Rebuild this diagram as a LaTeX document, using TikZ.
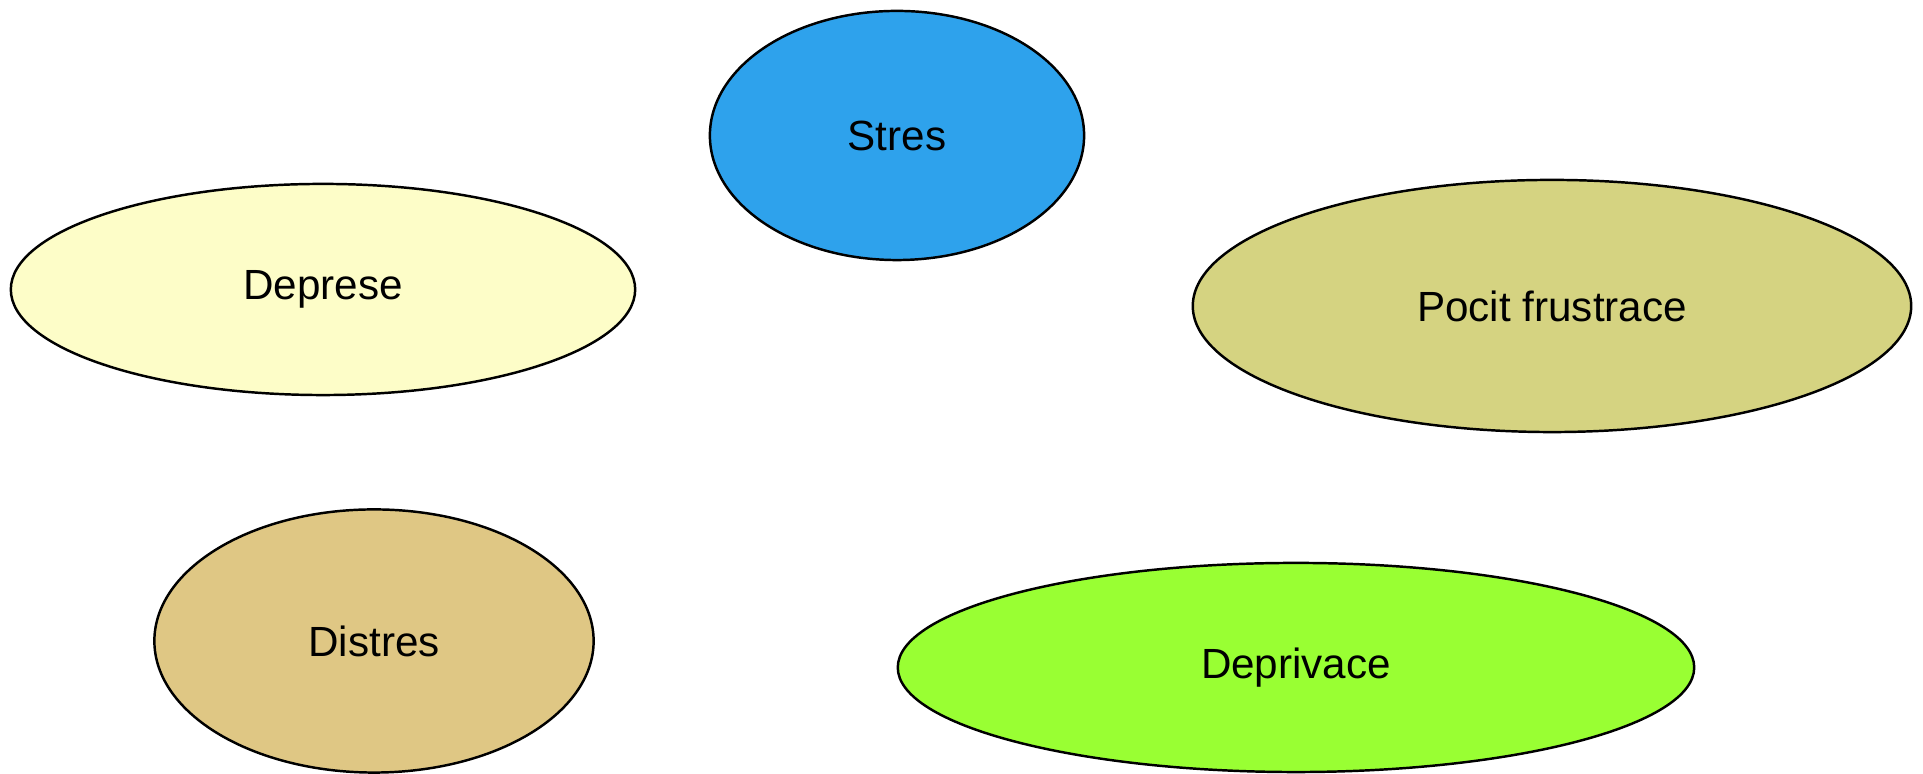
\documentclass[tikz,border=0pt]{standalone}
\usepackage{fontspec}
\setmainfont{Liberation Sans}
\usetikzlibrary{shapes.geometric}
\definecolor{cStres}{RGB}{46,162,236}
\definecolor{cDeprese}{RGB}{253,253,200}
\definecolor{cPocit}{RGB}{213,211,129}
\definecolor{cDistres}{RGB}{223,199,132}
\definecolor{cDeprivace}{RGB}{153,255,51}
\tikzset{
  blob/.style={ellipse, draw=black, line width=0.7pt, inner sep=0pt,
    font=\fontsize{12}{14}\selectfont}
}
\begin{document}
\begin{tikzpicture}[x=0.01cm,y=-0.01cm]
\useasboundingbox (0,0) rectangle (1923,774);
\node[blob, fill=cStres, minimum width=3.74cm, minimum height=2.49cm] (stres) at (897,135.5) {Stres};
\node[blob, fill=cDeprese, minimum width=6.24cm, minimum height=2.11cm] (deprese) at (323,289.5) {Deprese};
\node[blob, fill=cPocit, minimum width=7.18cm, minimum height=2.52cm] (pocit) at (1552,306) {Pocit frustrace};
\node[blob, fill=cDistres, minimum width=4.39cm, minimum height=2.63cm] (distres) at (374,641) {Distres};
\node[blob, fill=cDeprivace, minimum width=7.96cm, minimum height=2.09cm] (deprivace) at (1296,667.5) {\raisebox{-0.1cm}{Deprivace}};
\end{tikzpicture}
\end{document}
